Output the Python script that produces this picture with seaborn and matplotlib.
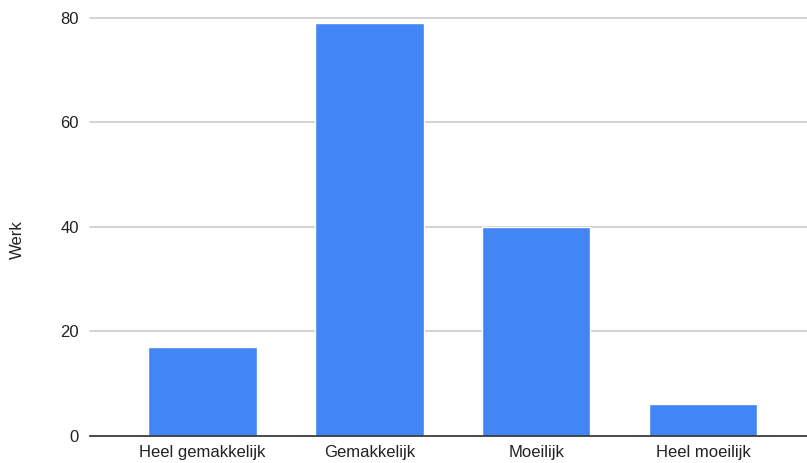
import matplotlib
matplotlib.use('agg')
import matplotlib.pyplot as plt
import seaborn as sns
import pandas as pd

categories = ['Heel gemakkelijk', 'Gemakkelijk', 'Moeilijk', 'Heel moeilijk']
werk = [17, 79, 40, 6]
y_ticks = [0, 20, 40, 60, 80]

df = pd.DataFrame({'categorie': categories, 'werk': werk})

sns.set_style('white')
plt.rcParams['font.family'] = ['Liberation Sans', 'DejaVu Sans']

fig = plt.figure(figsize=(8.07, 4.63), dpi=100)
ax = fig.add_axes([90 / 807, 1 - 435.5 / 463, 717 / 807, (435.5 - 18) / 463])

sns.barplot(data=df, x='categorie', y='werk', color='#4285F4', width=0.65,
            saturation=1, ax=ax, zorder=3)

ax.set_xlim(-0.674, 3.623)
ax.set_ylim(0, 80)
ax.set_yticks(y_ticks)
ax.yaxis.grid(True, color='#cccccc', linewidth=1.2, zorder=0)
ax.set_axisbelow(True)
for s in ['top', 'right', 'left']:
    ax.spines[s].set_visible(False)
ax.spines['bottom'].set_color('#333333')
ax.spines['bottom'].set_linewidth(1.2)
ax.spines['bottom'].set_zorder(4)

ax.tick_params(axis='y', length=0, pad=8, labelsize=12, labelcolor='#222222')
ax.tick_params(axis='x', length=0, pad=7, labelsize=12, labelcolor='#222222')
ax.set_xlabel('')
ax.set_ylabel('Werk', fontsize=12, color='#222222')
ax.yaxis.set_label_coords(-0.091, 0.468)
for line in ax.get_ygridlines():
    line.set_clip_on(False)

fig.savefig('out.png', dpi=100)
